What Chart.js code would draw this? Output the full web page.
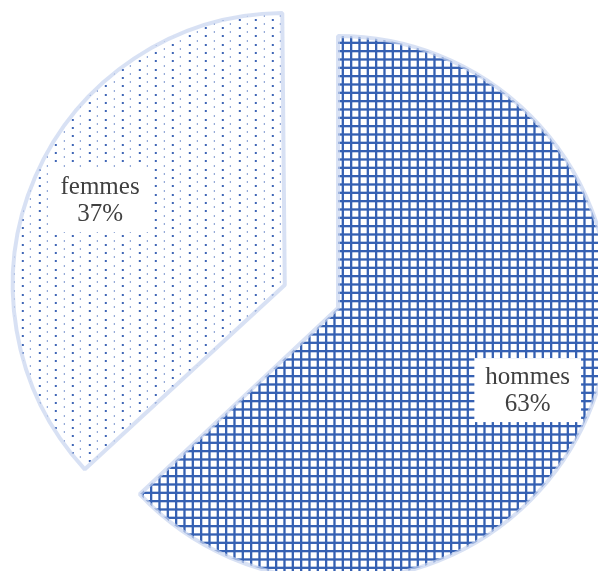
<!DOCTYPE html>
<html lang="fr">
<head>
    <meta charset="UTF-8">
    <title>hommes / femmes</title>
    <script src="https://cdn.jsdelivr.net/npm/chart.js"></script>
    <style>
        body { margin: 0; background: #ffffff; }
        #pieChart { display: block; }
    </style>
</head>
<body>
    <canvas id="pieChart" width="598" height="571"></canvas>
    <script>
        const categories = ['hommes', 'femmes'];
        const shares = [63, 37];
        const shareLabels = ['63%', '37%'];
        const explode = [0, 58]; // px pushed out along the slice middle

        // motif quadrillé (hommes)
        function gridPattern() {
            const c = document.createElement('canvas');
            c.width = 25; c.height = 25;
            const g = c.getContext('2d');
            g.fillStyle = '#ffffff';
            g.fillRect(0, 0, 25, 25);
            g.fillStyle = '#3560b2';
            for (let i = 0; i < 3; i++) {
                g.fillRect(i * 25 / 3, 0, 2.3, 25);
                g.fillRect(0, i * 25 / 3, 25, 2.3);
            }
            return g.createPattern(c, 'repeat');
        }

        // motif pointillé (femmes)
        function dotPattern() {
            const c = document.createElement('canvas');
            c.width = 50; c.height = 25;
            const g = c.getContext('2d');
            g.fillStyle = '#ffffff';
            g.fillRect(0, 0, 50, 25);
            for (let col = 0; col < 6; col++) {
                for (let row = 0; row < 6; row++) {
                    const x = col * 50 / 6, y = row * 25 / 6;
                    if (col % 2 === 1 && row % 2 === 0) {
                        g.fillStyle = '#3f66b6';
                        g.fillRect(Math.round(x), Math.round(y), 2, 2);
                    } else if (col % 2 === 0 && row % 2 === 1) {
                        g.fillStyle = '#7d97cf';
                        g.fillRect(Math.round(x), Math.round(y), 1, 2);
                    }
                }
            }
            return g.createPattern(c, 'repeat');
        }

        // garder le rayon de la part détachée égal à celui de l'autre
        const trimExploded = {
            id: 'trimExploded',
            afterDatasetUpdate(chart, args) {
                args.meta.data.forEach((arc, i) => {
                    const fix = 1 - Math.sin(Math.min(Math.PI, arc.circumference));
                    arc.outerRadius -= explode[i] * fix;
                });
            }
        };

        const sliceLabels = {
            id: 'sliceLabels',
            afterDatasetsDraw(chart) {
                const ctx = chart.ctx;
                const meta = chart.getDatasetMeta(0);
                const radius = meta.controller.outerRadius;
                ctx.save();
                ctx.font = '25px "Liberation Serif", serif';
                ctx.textAlign = 'center';
                ctx.textBaseline = 'middle';
                meta.data.forEach((arc, i) => {
                    const mid = (arc.startAngle + arc.endAngle) / 2;
                    const dist = explode[i] + radius * (i === 0 ? 0.76 : 0.74);
                    const x = arc.x + Math.cos(mid) * dist;
                    const y = arc.y + Math.sin(mid) * dist - (i === 1 ? 5 : 0);
                    const w = Math.max(ctx.measureText(categories[i]).width, ctx.measureText(shareLabels[i]).width) + 22;
                    const h = 64;
                    ctx.fillStyle = '#ffffff';
                    ctx.fillRect(x - w / 2, y - h / 2, w, h);
                    ctx.fillStyle = '#404040';
                    ctx.fillText(categories[i], x, y - 13);
                    ctx.fillText(shareLabels[i], x, y + 14);
                });
                ctx.restore();
            }
        };

        new Chart(document.getElementById('pieChart'), {
            type: 'pie',
            data: {
                labels: categories,
                datasets: [{
                    data: shares,
                    backgroundColor: [gridPattern(), dotPattern()],
                    borderColor: 'rgba(200, 212, 240, 0.7)',
                    borderWidth: 4,
                    borderAlign: 'center',
                    offset: explode.map(v => v * 4),
                    hoverOffset: 0,
                    radius: 272,
                    clip: false
                }]
            },
            options: {
                responsive: false,
                animation: false,
                layout: { padding: { left: 78, right: 0, top: 45, bottom: 0 } },
                plugins: {
                    legend: { display: false },
                    tooltip: { enabled: false }
                }
            },
            plugins: [trimExploded, sliceLabels]
        });
    </script>
</body>
</html>
